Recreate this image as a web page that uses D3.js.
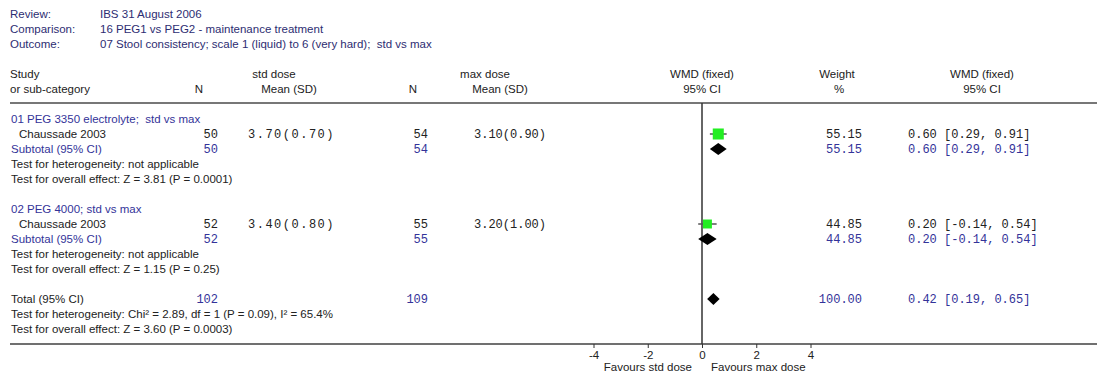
<!DOCTYPE html>
<html><head><meta charset="utf-8">
<script src="https://cdn.jsdelivr.net/npm/d3@7"></script>
<style>
html,body{margin:0;padding:0;background:#fff;}
svg{display:block;}
text{font-family:"Liberation Sans",Arial,sans-serif;font-size:11.5px;white-space:pre;}
.mono{font-family:"Liberation Mono","Courier New",monospace;font-size:12px;}
</style></head>
<body>
<script>
// ---- data ----
const titleLabels = ["Review:", "Comparison:", "Outcome:"];
const titleValues = ["IBS 31 August 2006", "16 PEG1 vs PEG2 - maintenance treatment",
  "07 Stool consistency; scale 1 (liquid) to 6 (very hard);  std vs max"];
const groupNames = ["01 PEG 3350 electrolyte;  std vs max", "02 PEG 4000; std vs max"];
const studyNames = ["Chaussade 2003", "Chaussade 2003"];
const stdN = [50, 52];
const stdMean = ["3.70", "3.40"];
const stdSD = ["0.70", "0.80"];
const maxN = [54, 55];
const maxMean = ["3.10", "3.20"];
const maxSD = ["0.90", "1.00"];
const weights = [55.15, 44.85];
const wmd = [0.60, 0.20];
const ciLow = [0.29, -0.14];
const ciHigh = [0.91, 0.54];
const subHet = ["Test for heterogeneity: not applicable", "Test for heterogeneity: not applicable"];
const subEffect = ["Test for overall effect: Z = 3.81 (P = 0.0001)", "Test for overall effect: Z = 1.15 (P = 0.25)"];
const totalN = [102, 109];
const totalWeight = 100.00;
const totalWmd = [0.42, 0.19, 0.65];
const totalHet = "Test for heterogeneity: Chi² = 2.89, df = 1 (P = 0.09), I² = 65.4%";
const totalEffect = "Test for overall effect: Z = 3.60 (P = 0.0003)";
const axisTicks = [-4, -2, 0, 2, 4];
const favours = ["Favours std dose", "Favours max dose"];

// ---- layout ----
const W = 1098, H = 383;
const BLUE = "#333399", NAVY = "#2d2d72", DARK = "#222";
const svg = d3.select("body").append("svg").attr("width", W).attr("height", H);
const x = d3.scaleLinear().domain([-4, 4]).range([593.5, 810.5]);
const rowY = d3.scaleLinear().domain([0, 1]).range([119, 134]);
const titleY = d3.scaleLinear().domain([0, 1]).range([14, 29]);
const f2 = v => v.toFixed(2);

function txt(xp, yp, s, opts = {}) {
  const t = svg.append("text").attr("x", xp).attr("y", yp).attr("dy", "0.35em")
    .attr("fill", opts.fill || DARK).text(s);
  if (opts.anchor) t.attr("text-anchor", opts.anchor);
  if (opts.mono) t.attr("class", "mono");
  if (opts.ls) t.style("letter-spacing", opts.ls + "px");
  return t;
}

// title block
titleLabels.forEach((l, i) => {
  txt(10, titleY(i), l, {fill: NAVY});
  txt(100, titleY(i), titleValues[i], {fill: NAVY});
});

// headers
txt(10, 74, "Study"); txt(10, 89, "or sub-category");
txt(199, 89, "N", {anchor: "middle"});
txt(274, 74, "std dose", {anchor: "middle"}); txt(289, 89, "Mean (SD)", {anchor: "middle"});
txt(413, 89, "N", {anchor: "middle"});
txt(485, 74, "max dose", {anchor: "middle"}); txt(500, 89, "Mean (SD)", {anchor: "middle"});
txt(702, 74, "WMD (fixed)", {anchor: "middle"}); txt(702, 89, "95% CI", {anchor: "middle"});
txt(837, 74, "Weight", {anchor: "middle"}); txt(839, 89, "%", {anchor: "middle"});
txt(982, 74, "WMD (fixed)", {anchor: "middle"}); txt(982, 89, "95% CI", {anchor: "middle"});

// header and axis lines
svg.append("line").attr("x1", 10).attr("x2", 1097).attr("y1", 103).attr("y2", 103)
  .attr("stroke", "#777").attr("stroke-width", 2);
svg.append("line").attr("x1", 10).attr("x2", 1097).attr("y1", 344).attr("y2", 344)
  .attr("stroke", "#707070").attr("stroke-width", 2);
// zero line
svg.append("line").attr("x1", x(0)).attr("x2", x(0)).attr("y1", 103).attr("y2", 344)
  .attr("stroke", "#333").attr("stroke-width", 1.5);

function diamond(est, lo, hi, cy) {
  const h = 6;
  svg.append("path")
    .attr("d", `M${x(lo)},${cy}L${x(est)},${cy - h}L${x(hi)},${cy}L${x(est)},${cy + h}Z`)
    .attr("fill", "#000");
}
const ciText = (e, l, h) => `${f2(e)} [${f2(l)}, ${f2(h)}]`;

groupNames.forEach((g, i) => {
  const base = i * 6;
  txt(11, rowY(base), g, {fill: BLUE});
  // study row
  const ys = rowY(base + 1);
  txt(19, ys, studyNames[i]);
  txt(218, ys, String(stdN[i]), {anchor: "end", mono: true});
  txt(248, ys, `${stdMean[i]}(${stdSD[i]})`, {mono: true, ls: 1.5});
  txt(428, ys, String(maxN[i]), {anchor: "end", mono: true});
  txt(474, ys, `${maxMean[i]}(${maxSD[i]})`, {mono: true});
  txt(862, ys, f2(weights[i]), {anchor: "end", mono: true});
  txt(908, ys, ciText(wmd[i], ciLow[i], ciHigh[i]), {mono: true});
  svg.append("line").attr("x1", x(ciLow[i])).attr("x2", x(ciHigh[i]))
    .attr("y1", ys).attr("y2", ys).attr("stroke", "#555").attr("stroke-width", 1.5);
  const side = weights[i] * 0.2;
  svg.append("rect").attr("x", x(wmd[i]) - side / 2).attr("y", ys - side / 2)
    .attr("width", side).attr("height", side).attr("fill", "#22ee22");
  // subtotal row
  const yt = rowY(base + 2);
  txt(11, yt, "Subtotal (95% CI)", {fill: BLUE});
  txt(218, yt, String(stdN[i]), {anchor: "end", mono: true, fill: BLUE});
  txt(428, yt, String(maxN[i]), {anchor: "end", mono: true, fill: BLUE});
  txt(862, yt, f2(weights[i]), {anchor: "end", mono: true, fill: BLUE});
  txt(908, yt, ciText(wmd[i], ciLow[i], ciHigh[i]), {mono: true, fill: BLUE});
  diamond(wmd[i], ciLow[i], ciHigh[i], yt);
  txt(11, rowY(base + 3), subHet[i]);
  txt(11, rowY(base + 4), subEffect[i]);
});

// total
const yT = rowY(12);
txt(11, yT, "Total (95% CI)");
txt(218, yT, String(totalN[0]), {anchor: "end", mono: true, fill: BLUE});
txt(428, yT, String(totalN[1]), {anchor: "end", mono: true, fill: BLUE});
txt(862, yT, f2(totalWeight), {anchor: "end", mono: true, fill: BLUE});
txt(908, yT, ciText(totalWmd[0], totalWmd[1], totalWmd[2]), {mono: true, fill: BLUE});
diamond(totalWmd[0], totalWmd[1], totalWmd[2], yT);
txt(11, rowY(13), totalHet);
txt(11, rowY(14), totalEffect);

// axis
const ax = svg.append("g").attr("transform", "translate(0,344)")
  .call(d3.axisBottom(x).tickValues(axisTicks).tickSize(4).tickPadding(3).tickFormat(d => String(d)));
ax.select(".domain").remove();
ax.selectAll("line").attr("stroke", "#333");
ax.selectAll("text").attr("font-family", "Liberation Sans, Arial, sans-serif")
  .attr("font-size", 11.5).attr("fill", DARK);

txt(692, 367, favours[0], {anchor: "end"});
txt(711, 367, favours[1]);
</script>
</body></html>
